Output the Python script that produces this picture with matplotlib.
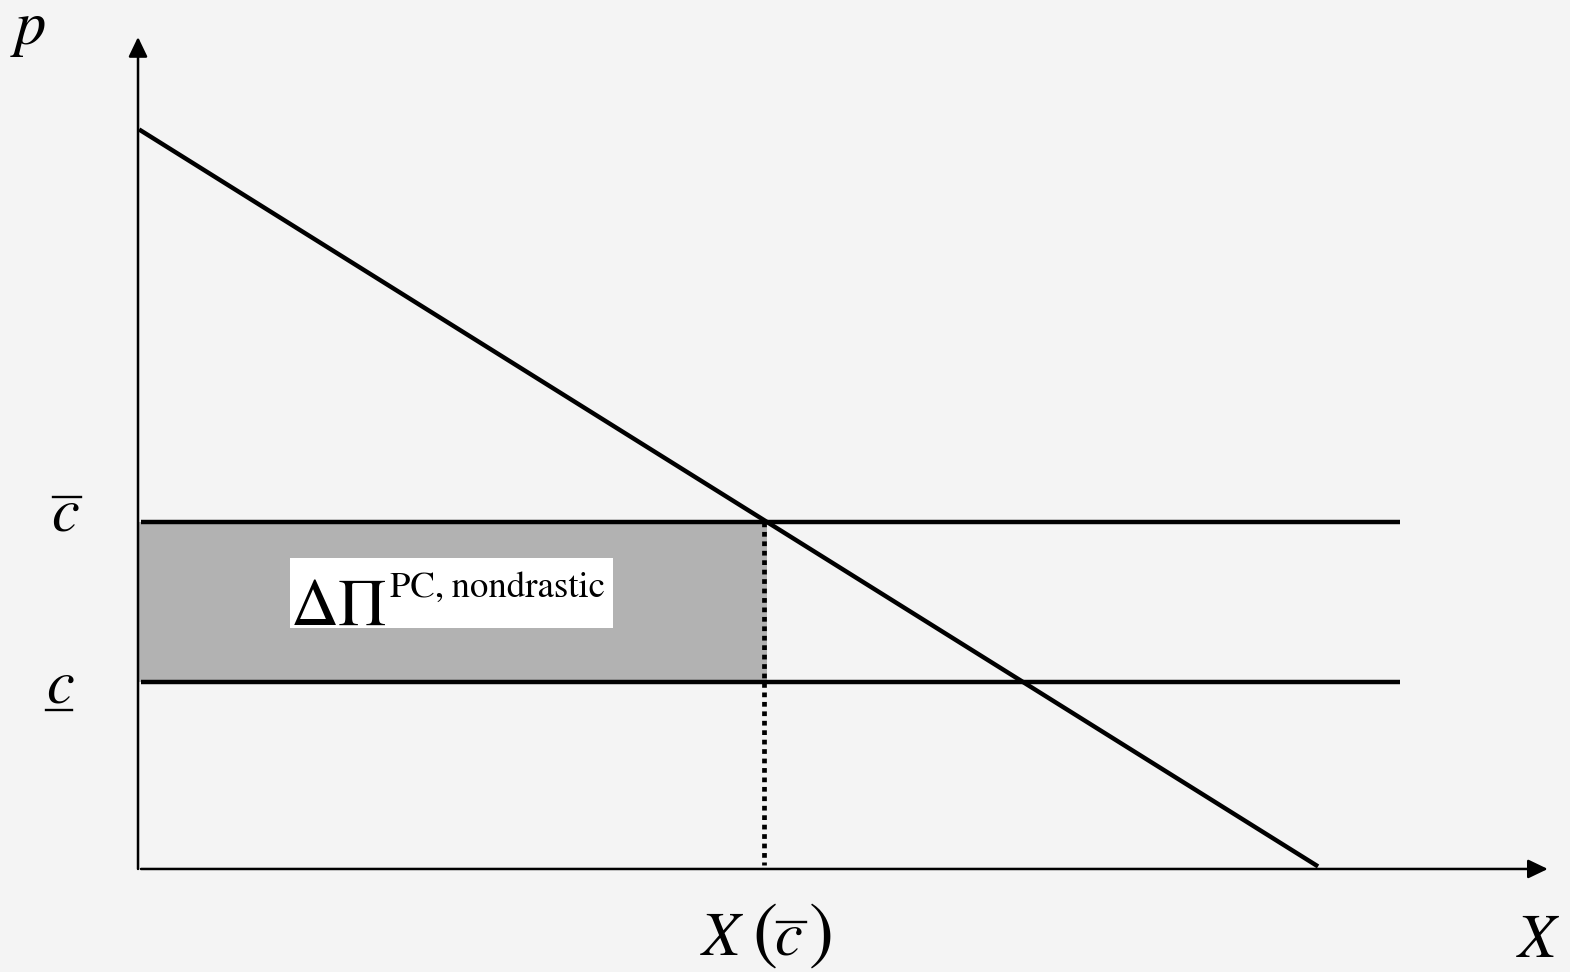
import matplotlib.pyplot as plt
import numpy as np
from matplotlib.patches import Rectangle

plt.rcParams['font.family'] = ['STIXGeneral', 'Liberation Serif', 'DejaVu Serif']

# model values (price p against quantity X)
p_max = 10.0          # demand intercept on p axis
X_max = 16.0          # demand intercept on X axis
c_bar = 4.69          # high cost
c_low = 2.53          # low cost
X_end = 17.05         # how far the cost lines run
demand_X = [0.04, 15.92]
axis_tips = [19.05, 11.24]   # x axis end, p axis end


def demand(X):
    return p_max - p_max / X_max * np.asarray(X)


X_cbar = X_max * (1 - c_bar / p_max)

fig = plt.figure(figsize=(15.7, 9.72), dpi=100)
fig.patch.set_facecolor('#f4f4f4')
ax = fig.add_axes([0, 0, 1, 1])
ax.set_facecolor('#f4f4f4')
ax.set_xlim(-1.865, 19.35)
ax.set_ylim(-1.392, 11.74)
ax.axis('off')

# axes with arrows
arrow = dict(arrowstyle='-|>,head_length=1.0,head_width=0.48', mutation_scale=12,
             color='black', lw=1.8, shrinkA=0, shrinkB=0)
ax.annotate('', xy=(0, axis_tips[1]), xytext=(0, 0), arrowprops=arrow)
ax.annotate('', xy=(axis_tips[0], 0), xytext=(0.04, 0), arrowprops=arrow)

# shaded profit area
ax.fill_between([0, X_cbar], c_low, c_bar, color='#b2b2b2', lw=0, zorder=1)

# cost lines
ax.plot([0.04, X_end], [c_bar, c_bar], color='black', lw=3.2, zorder=3,
        solid_capstyle='butt')
ax.plot([0.04, X_end], [c_low, c_low], color='black', lw=3.2, zorder=3,
        solid_capstyle='butt')

# demand
ax.plot(demand_X, demand(demand_X), color='black', lw=3.2, zorder=3)

# dotted drop line
ax.plot([X_cbar - 0.04, X_cbar - 0.04], [c_bar, 0.05], color='black', lw=3.4,
        linestyle=(0, (1, 1)), zorder=2)

# label box
ax.add_patch(Rectangle((2.054, 3.257), 4.365, 0.946, facecolor='white',
                       edgecolor='none', zorder=4))
ax.text(2.06, 3.297, '\u0394\u03a0', fontsize=48, ha='left', va='baseline', zorder=5)
ax.text(3.405, 3.676, 'PC,\u2009nondrastic', fontsize=26.6, ha='left',
        va='baseline', zorder=5)

# axis labels
lab = dict(fontsize=45, fontstyle='italic', ha='left', va='baseline')
ax.text(-1.66, 11.15, 'p', **lab)
ax.text(-1.176, 4.568, 'c', **lab)
ax.plot([-1.149, -0.770], [5.027, 5.027], color='black', lw=1.7)
ax.text(-1.243, 2.243, 'c', **lab)
ax.plot([-1.243, -0.892], [2.149, 2.149], color='black', lw=1.7)

# X(c bar) label
ax.text(7.62, -1.162, 'X', **lab)
ax.text(8.30, -1.15, '(', fontsize=54, ha='left', va='baseline')
ax.text(8.60, -1.162, 'c', **lab)
ax.plot([8.635, 9.027], [-0.716, -0.716], color='black', lw=1.7)
ax.text(9.07, -1.15, ')', fontsize=54, ha='left', va='baseline')

ax.text(18.65, -1.19, 'X', **lab)

fig.savefig('out.png', dpi=100, facecolor=fig.get_facecolor())
